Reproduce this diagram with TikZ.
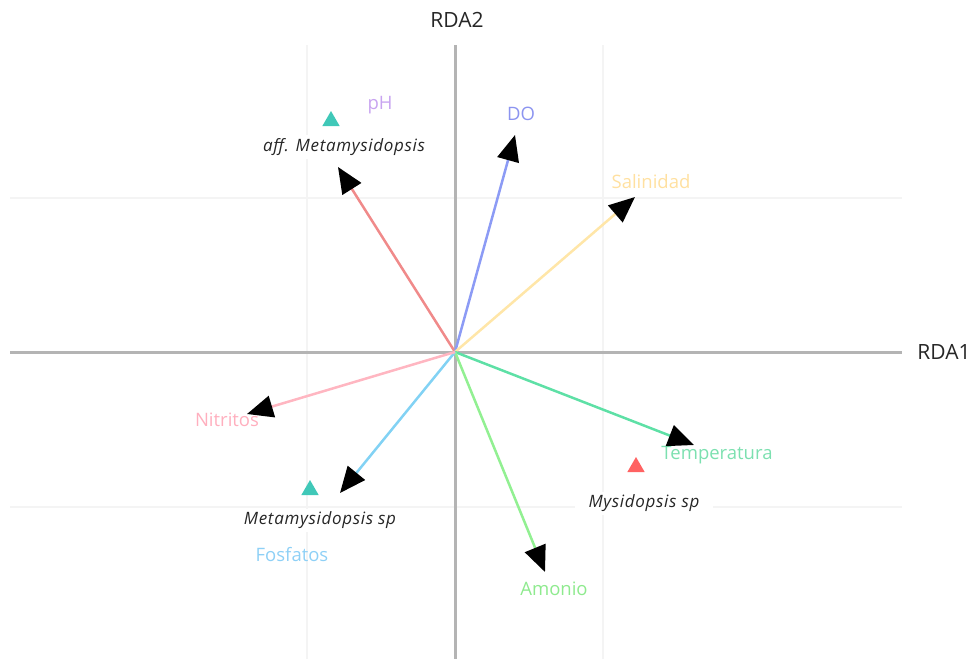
\documentclass[tikz,border=0pt]{standalone}
\usepackage{fontspec}
\setmainfont{Open Sans}
\newfontfamily\spfont[LetterSpace=4]{Open Sans}
\usetikzlibrary{arrows.meta,shapes.geometric}
\definecolor{axisgray}{HTML}{B4B4B4}
\definecolor{gridgray}{HTML}{F4F4F4}
\definecolor{cAff}{HTML}{F08A8A}
\definecolor{cDO}{HTML}{8C9BF5}
\definecolor{cSal}{HTML}{FFE6A8}
\definecolor{cTemp}{HTML}{5EE0A6}
\definecolor{cAmo}{HTML}{92F092}
\definecolor{cFos}{HTML}{82D2F4}
\definecolor{cNit}{HTML}{FFB6C1}
\definecolor{lpH}{HTML}{C8A4F0}
\definecolor{lDO}{HTML}{8C94F0}
\definecolor{lSal}{HTML}{FFE0A0}
\definecolor{lTemp}{HTML}{7CE0B0}
\definecolor{lAmo}{HTML}{8EEA8E}
\definecolor{lFos}{HTML}{8ED0F6}
\definecolor{lNit}{HTML}{FFAFBE}
\definecolor{tealc}{HTML}{40C8B8}
\definecolor{redtri}{HTML}{FF6262}
\begin{document}
\begin{tikzpicture}[x=1pt,y=-1pt,
  axisline/.style={draw=axisgray,line width=3pt},
  gridline/.style={draw=gridgray,line width=2pt},
  vec/.style={line width=2.5pt,-{Triangle[length=26pt,width=22pt,color=black]}},
  varlabel/.style={font=\fontsize{18.5}{18.5}\selectfont,inner sep=1pt},
  splabel/.style={font=\spfont\fontsize{17}{17}\itshape,text=black!85,fill=white,inner xsep=14pt,inner ysep=3pt},
  axlabel/.style={font=\fontsize{21}{21}\selectfont,text=black!85},
  tri/.style={regular polygon,regular polygon sides=3,minimum size=20pt,inner sep=0pt}
]
\useasboundingbox (0,0) rectangle (977,659);
% grid
\draw[gridline] (10,198) -- (902,198);
\draw[gridline] (10,507) -- (902,507);
\draw[gridline] (307,45) -- (307,659);
\draw[gridline] (603,45) -- (603,659);
% axes
\draw[axisline] (10,352) -- (902,352);
\draw[axisline] (455,45) -- (455,659);
\node[axlabel] (rda1) at (944,352) {RDA1};
\node[axlabel] (rda2) at (457,20) {RDA2};
% species labels (white backgrounds)
\node[splabel] (lAffM) at (344,147) {aff. Metamysidopsis};
\node[splabel] (lMeta) at (320,520) {Metamysidopsis sp};
\node[splabel] (lMysi) at (644,503) {Mysidopsis sp};
% variable labels
\node[varlabel,text=lpH] (tpH) at (380,105) {pH};
\node[varlabel,text=lDO] (tDO) at (521,114) {DO};
\node[varlabel,text=lSal] (tSal) at (651,182) {Salinidad};
\node[varlabel,text=lTemp] (tTemp) at (717,455) {Temperatura};
\node[varlabel,text=lAmo] (tAmo) at (554,589) {Amonio};
\node[varlabel,text=lFos] (tFos) at (292,555) {Fosfatos};
\node[varlabel,text=lNit] (tNit) at (227,420) {Nitritos};
% triangles
\node[tri,fill=tealc] (sAffM) at (331,121) {};
\node[tri,fill=tealc] (sMeta) at (310,490) {};
\node[tri,fill=redtri] (sMysi) at (636,467) {};
% vectors
\coordinate (o) at (455,352);
\coordinate (eAff) at (338,167);
\coordinate (eDO) at (515,135);
\coordinate (eSal) at (635,197);
\coordinate (eTemp) at (694,445);
\coordinate (eAmo) at (545,572);
\coordinate (eFos) at (340,493);
\coordinate (eNit) at (247,414);
\draw[vec,draw=cAff] (o) -- (eAff);
\draw[vec,draw=cDO] (o) -- (eDO);
\draw[vec,draw=cSal] (o) -- (eSal);
\draw[vec,draw=cTemp] (o) -- (eTemp);
\draw[vec,draw=cAmo] (o) -- (eAmo);
\draw[vec,draw=cFos] (o) -- (eFos);
\draw[vec,draw=cNit] (o) -- (eNit);
\end{tikzpicture}
\end{document}
